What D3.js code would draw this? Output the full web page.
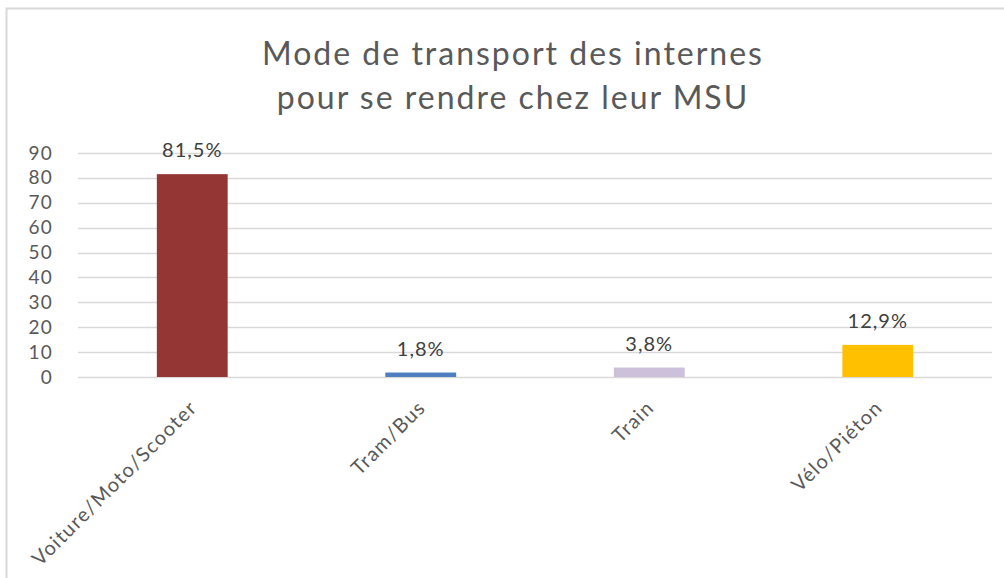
<!DOCTYPE html>
<html>
<head>
<meta charset="utf-8">
<script src="https://cdn.jsdelivr.net/npm/d3@7"></script>
<style>
	body { margin: 0; background: #fff; }
	text { font-family: Lato, "Open Sans", sans-serif; }
</style>
</head>
<body>
<script>
const categories = ['Voiture/Moto/Scooter', 'Tram/Bus', 'Train', 'Vélo/Piéton'];
const values = [81.5, 1.8, 3.8, 12.9];
const labels = ['81,5%', '1,8%', '3,8%', '12,9%'];
const colors = ['#943634', '#4f7fc0', '#ccc0da', '#ffc000'];
const yTicks = [0, 10, 20, 30, 40, 50, 60, 70, 80, 90];
const titleLines = ['Mode de transport des internes', 'pour se rendre chez leur MSU'];

const w = 1004,
	h = 578;
const margin = {top: 153, right: 12, bottom: 201, left: 78};

const svg = d3.select('body')
	.append('svg')
	.attr('width', w)
	.attr('height', h);

//chart frame
svg.append('rect')
	.attr('x', 6.5)
	.attr('y', 8.5)
	.attr('width', w)
	.attr('height', h)
	.attr('fill', 'none')
	.attr('stroke', '#d9d9d9')
	.attr('stroke-width', 2);

//title
svg.append('g')
	.selectAll('text')
	.data(titleLines)
	.enter()
	.append('text')
	.attr('x', 513)
	.attr('y', (d, i) => 65 + i * 44)
	.attr('text-anchor', 'middle')
	.attr('font-size', 32)
	.attr('letter-spacing', 2)
	.attr('fill', '#595959')
	.text((d) => d);

const x = d3.scaleBand()
	.domain(categories)
	.range([margin.left, w - margin.right])
	.paddingInner(0.69)
	.paddingOuter(0.345);

const y = d3.scaleLinear()
	.domain([0, 90])
	.range([h - margin.bottom, margin.top]);

//gridlines
svg.append('g')
	.selectAll('line')
	.data(yTicks)
	.enter()
	.append('line')
	.attr('x1', margin.left)
	.attr('x2', w - margin.right)
	.attr('y1', (d) => Math.round(y(d)) + 0.5)
	.attr('y2', (d) => Math.round(y(d)) + 0.5)
	.attr('stroke', '#d9d9d9')
	.attr('stroke-width', 1.5);

//y axis labels
const yAxis = svg.append('g')
	.attr('transform', `translate(${margin.left - 10},0)`)
	.call(d3.axisLeft(y).tickValues(yTicks).tickSize(0).tickPadding(15));
yAxis.select('.domain').remove();
yAxis.selectAll('text')
	.attr('font-size', 19)
	.attr('letter-spacing', 1.2)
	.attr('fill', '#595959')
	.style('font-family', 'Lato, sans-serif');

//bars
svg.append('g')
	.selectAll('rect')
	.data(values)
	.enter()
	.append('rect')
	.attr('x', (d, i) => x(categories[i]))
	.attr('y', (d) => y(d))
	.attr('width', x.bandwidth())
	.attr('height', (d) => y(0) - y(d))
	.attr('fill', (d, i) => colors[i]);

//value labels
svg.append('g')
	.selectAll('text')
	.data(values)
	.enter()
	.append('text')
	.attr('x', (d, i) => x(categories[i]) + x.bandwidth() / 2)
	.attr('y', (d) => y(d) - 17)
	.attr('text-anchor', 'middle')
	.attr('font-size', 20)
	.attr('letter-spacing', 1)
	.attr('fill', '#404040')
	.text((d, i) => labels[i]);

//category labels, rotated
const xAxis = svg.append('g')
	.attr('transform', `translate(0,${y(0)})`)
	.call(d3.axisBottom(x).tickSize(0).tickPadding(0));
xAxis.select('.domain').remove();
xAxis.selectAll('text')
	.attr('font-size', 20)
	.attr('letter-spacing', 1.3)
	.attr('fill', '#595959')
	.style('font-family', 'Lato, sans-serif')
	.attr('text-anchor', 'end')
	.attr('dy', 0)
	.attr('transform', 'translate(6,32) rotate(-45)');
</script>
</body>
</html>
